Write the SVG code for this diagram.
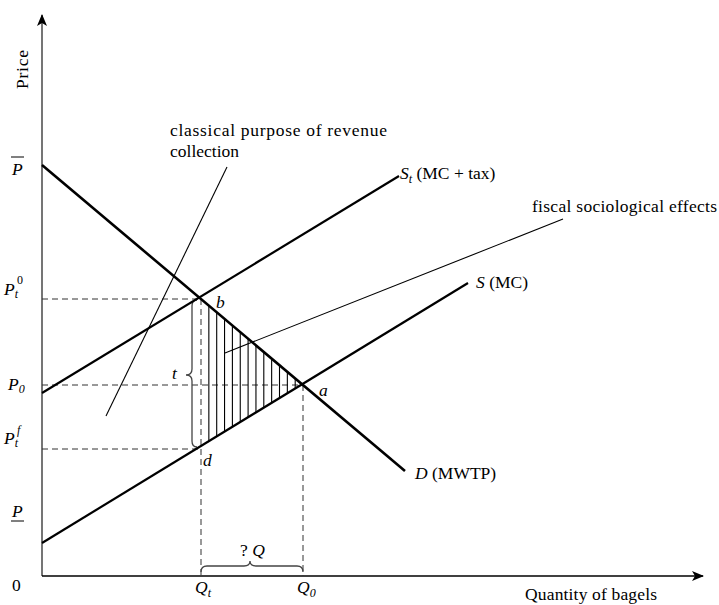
<svg xmlns="http://www.w3.org/2000/svg" width="719" height="605" viewBox="0 0 719 605">
<style>
text{font-family:"Liberation Serif","Times New Roman",serif;fill:#000}
.lbl{font-size:17.5px}
.it{font-style:italic}
.sm{font-size:12px}
.axis{stroke:#000;stroke-width:1.5;fill:none}
.yaxis{stroke:#666;stroke-width:1.8;fill:none}
.dash{stroke:#333;stroke-width:1;stroke-dasharray:6 4;fill:none}
.curve{stroke:#000;stroke-width:2.2;fill:none}
.dem{stroke:#000;stroke-width:2.6;fill:none}
.thin{stroke:#000;stroke-width:1.1;fill:none}
.brace{stroke:#444;stroke-width:1.3;fill:none}
</style>
<defs>
<marker id="arr" markerWidth="12" markerHeight="10" refX="11" refY="5" orient="auto" markerUnits="userSpaceOnUse">
<path d="M0,0 L12,5 L0,10 L3,5 Z" fill="#000"/>
</marker>
</defs>
<g id="axes">
<line class="yaxis" x1="42" y1="576" x2="42" y2="15" marker-end="url(#arr)"/>
<line class="axis" x1="42" y1="576" x2="703" y2="576" marker-end="url(#arr)"/>
<text class="lbl" transform="translate(28,89) rotate(-90)" textLength="39">Price</text>
<text class="lbl" x="525" y="600" textLength="132">Quantity of bagels</text>
<text class="lbl" x="12" y="591">0</text>
</g>
<g id="connectors">
<line class="dash" x1="42" y1="299" x2="201" y2="299"/>
<line class="dash" x1="42" y1="385" x2="302" y2="385"/>
<line class="dash" x1="42" y1="449" x2="201" y2="449"/>
<line class="dash" x1="201" y1="299" x2="201" y2="576"/>
<line class="dash" x1="303" y1="385" x2="303" y2="576"/>
<g id="hatch" class="thin">
<line x1="208.85" y1="305.6" x2="208.85" y2="441.2"/>
<line x1="216.7" y1="312.3" x2="216.7" y2="436.4"/>
<line x1="224.55" y1="318.9" x2="224.55" y2="431.6"/>
<line x1="232.4" y1="325.5" x2="232.4" y2="426.8"/>
<line x1="240.25" y1="332.1" x2="240.25" y2="422.0"/>
<line x1="248.1" y1="338.7" x2="248.1" y2="417.2"/>
<line x1="255.95" y1="345.4" x2="255.95" y2="412.4"/>
<line x1="263.8" y1="352.0" x2="263.8" y2="407.6"/>
<line x1="271.65" y1="358.6" x2="271.65" y2="402.8"/>
<line x1="279.5" y1="365.2" x2="279.5" y2="398.1"/>
<line x1="287.35" y1="371.8" x2="287.35" y2="393.3"/>
<line x1="295.2" y1="378.4" x2="295.2" y2="388.5"/>
</g>
<line class="thin" x1="227" y1="167" x2="106" y2="416"/>
<line class="thin" x1="563" y1="219" x2="225" y2="353"/>
<path class="brace" d="M197,300 Q192,300 192,306 L192,369 Q192,375 186,375 Q192,375 192,381 L192,441 Q192,447 197,447"/>
<path class="brace" d="M201,572 Q201,566 207,566 L244,566 Q250,566 250,561 Q250,566 256,566 L297,566 Q303,566 303,572"/>
</g>
<g id="demand">
<line class="dem" x1="42" y1="165" x2="405" y2="471"/>
<text class="lbl" x="415" y="479"><tspan class="it">D</tspan> (MWTP)</text>
</g>
<g id="supply">
<line class="curve" x1="42" y1="543" x2="468" y2="283"/>
<text class="lbl" x="476" y="288"><tspan class="it">S</tspan> (MC)</text>
</g>
<g id="supply-tax">
<line class="curve" x1="42" y1="393" x2="399" y2="176"/>
<text class="lbl" x="400" y="179"><tspan class="it">S</tspan><tspan class="it sm" dy="4">t</tspan><tspan dy="-4"> (MC + tax)</tspan></text>
</g>
<g id="points">
<text class="lbl it" x="216" y="308">b</text>
<text class="lbl it" x="319" y="396">a</text>
<text class="lbl it" x="203" y="466">d</text>
<text class="lbl it" x="172" y="379">t</text>
<text class="lbl" x="240" y="556">? <tspan class="it">Q</tspan></text>
<text class="lbl it" x="195" y="593">Q<tspan class="sm" dy="4">t</tspan></text>
<text class="lbl it" x="297" y="593">Q<tspan class="sm" dy="4">0</tspan></text>
</g>
<g id="price-labels">
<text class="lbl it" x="12" y="175">P</text>
<line x1="11" y1="157" x2="24" y2="157" stroke="#000" stroke-width="1"/>
<text class="lbl it" x="4" y="295">P<tspan class="sm" dy="3">t</tspan></text>
<text class="sm" x="17" y="284">0</text>
<text class="lbl it" x="8" y="390">P<tspan class="sm" dy="3">0</tspan></text>
<text class="lbl it" x="4" y="444">P<tspan class="sm" dy="3">t</tspan></text>
<text class="sm it" x="17" y="434">f</text>
<text class="lbl it" x="12" y="517">P</text>
<line x1="11" y1="521" x2="24" y2="521" stroke="#000" stroke-width="1"/>
</g>
<g id="note-classical">
<text class="lbl" x="170" y="136" textLength="217">classical purpose of revenue</text>
<text class="lbl" x="170" y="157">collection</text>
</g>
<g id="note-fiscal">
<text class="lbl" x="532" y="212" textLength="185">fiscal sociological effects</text>
</g>
</svg>
